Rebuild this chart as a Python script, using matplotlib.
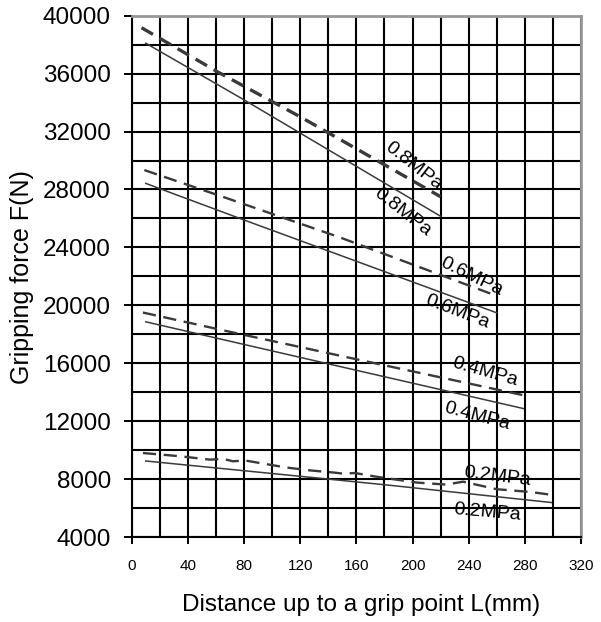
import matplotlib
matplotlib.use('Agg')
import matplotlib.pyplot as plt
from matplotlib.ticker import MultipleLocator

plt.rcParams['font.family'] = ['Liberation Sans', 'DejaVu Sans']
plt.rcParams['lines.scale_dashes'] = False

# ---- data ----
x_s08 = [10, 80, 220]
y_s08 = [38100, 34190, 26150]
x_d08 = [7, 61, 120, 220]
y_d08 = [39170, 36130, 33020, 27500]

x_s06 = [10, 77, 260]
y_s06 = [28420, 26000, 19480]
x_d06 = [9, 65, 148, 260]
y_d06 = [29340, 27490, 24700, 20650]

x_s04 = [10, 139, 279]
y_s04 = [18860, 15980, 12870]
x_d04 = [8, 70, 155, 279]
y_d04 = [19500, 18170, 16380, 13790]

x_s02 = [10, 141, 184, 299]
y_s02 = [9250, 7990, 7570, 6380]
x_d02 = [8, 34, 56, 65, 72, 81, 110, 127, 144, 151, 159, 175, 203, 224, 236, 260, 284, 300]
y_d02 = [9800, 9580, 9340, 9400, 9230, 9280, 8800, 8600, 8450, 8370, 8420, 8150, 7760, 7620, 7820, 7300, 7110, 6900]

label_text = ['0.8MPa', '0.8MPa', '0.6MPa', '0.6MPa', '0.4MPa', '0.4MPa', '0.2MPa', '0.2MPa']
label_x = [200.4, 193.2, 241.7, 231.7, 251.6, 246.0, 260.2, 253.0]
label_y = [29614, 26436, 21944, 19526, 15380, 12340, 8194, 5707]
label_rot = [-38, -38, -26, -21, -16, -15, -7, -5]

x_ticks = [0, 40, 80, 120, 160, 200, 240, 280, 320]
y_ticks = [4000, 8000, 12000, 16000, 20000, 24000, 28000, 32000, 36000, 40000]

fig = plt.figure(figsize=(6.01, 6.22), dpi=100)
ax = fig.add_axes([131.7/601, 1-537/622, (581-131.7)/601, (537-15.7)/622])

ax.set_xlim(0, 320)
ax.set_ylim(4000, 40000)
ax.set_xticks(x_ticks)
ax.set_yticks(y_ticks)
ax.xaxis.set_minor_locator(MultipleLocator(20))
ax.yaxis.set_minor_locator(MultipleLocator(2000))
ax.grid(which='both', color='black', lw=1.5, zorder=1)
ax.set_axisbelow(True)

ax.tick_params(axis='y', which='major', length=6, width=1.4, pad=9, labelsize=17.5)
ax.tick_params(axis='x', which='major', length=5, width=1.4, pad=11, labelsize=11)
ax.tick_params(which='minor', length=0)
for lab in ax.get_xticklabels():
    lab.set_family(['Liberation Sans Narrow', 'Liberation Sans'])

for s in ['left', 'bottom']:
    ax.spines[s].set_color('black')
    ax.spines[s].set_linewidth(1.5)
for s in ['top', 'right']:
    ax.spines[s].set_color('#999999')
    ax.spines[s].set_linewidth(2)

col = '#3a3a3a'
dash = (0, (9.5, 5.5))
for xs, ys in [(x_s08, y_s08), (x_s06, y_s06), (x_s04, y_s04), (x_s02, y_s02)]:
    ax.plot(xs, ys, color=col, lw=1.1, zorder=3)
ax.plot(x_d08, y_d08, color=col, lw=2.4, ls=dash, zorder=3)
for xs, ys in [(x_d06, y_d06), (x_d04, y_d04), (x_d02, y_d02)]:
    ax.plot(xs, ys, color=col, lw=1.7, ls=dash, zorder=3)

for t, x, y, r in zip(label_text, label_x, label_y, label_rot):
    ax.text(x, y, t, rotation=r, ha='center', va='center', fontsize=14,
            color='black', rotation_mode='anchor', zorder=4)

fig.text(22/601, 1-277.5/622, 'Gripping force F(N)', rotation=90,
         ha='center', va='center', fontsize=18)
fig.text(361.5/601, 1-605/622, 'Distance up to a grip point L(mm)',
         ha='center', va='center', fontsize=17.5)

fig.savefig('out.png', dpi=100)
